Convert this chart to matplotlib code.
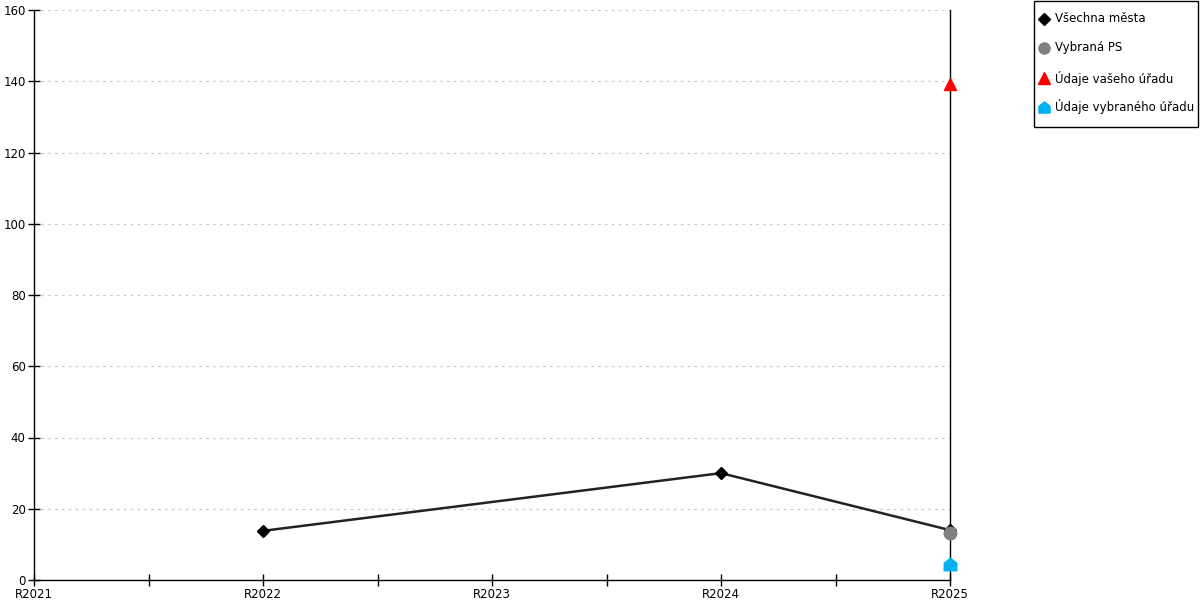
import matplotlib
matplotlib.use("Agg")
import matplotlib.pyplot as plt
from matplotlib.path import Path
from matplotlib.patches import Rectangle
import numpy as np

years = ["R2021", "R2022", "R2023", "R2024", "R2025"]
vsechna_x = ["R2022", "R2024", "R2025"]
vsechna_y = [13.8, 30.0, 14.0]
ps_x = ["R2025"]
ps_y = [13.2]
vas_x = ["R2025"]
vas_y = [139.2]
vybrany_x = ["R2025"]
vybrany_y = [4.5]
legend_labels = ["Všechna města", "Vybraná PS", "Údaje vašeho úřadu", "Údaje vybraného úřadu"]

plt.rcParams['font.family'] = ['DejaVu Sans']

pos = {y: i for i, y in enumerate(years)}

house = Path([(-1, -1), (1, -1), (1, 0.2), (0, 1), (-1, 0.2), (-1, -1)],
             [Path.MOVETO, Path.LINETO, Path.LINETO, Path.LINETO, Path.LINETO, Path.CLOSEPOLY])

W, H = 1200, 600
fig = plt.figure(figsize=(12, 6), dpi=100)
ax = fig.add_axes([34/W, 20/H, (950-34)/W, 570/H])

ax.set_xlim(0, 4)
ax.set_ylim(0, 160)

ax.grid(axis='y', color='#c8c8c8', linestyle=(0, (2, 3.5)), linewidth=0.9)
ax.set_axisbelow(True)

ax.plot([pos[x] for x in vsechna_x], vsechna_y, color='#222222', lw=1.8, marker='D',
        markersize=6, markerfacecolor='black', markeredgecolor='black', clip_on=False, zorder=3)
ax.plot([pos[x] for x in ps_x], ps_y, linestyle='none', marker='o', markersize=9,
        color='#808080', clip_on=False, zorder=4)
ax.plot([pos[x] for x in vas_x], vas_y, linestyle='none', marker='^', markersize=9,
        color='#ff0000', clip_on=False, zorder=4)
ax.plot([pos[x] for x in vybrany_x], vybrany_y, linestyle='none', marker=house, markersize=9,
        color='#00b0f0', clip_on=False, zorder=4)

ax.spines['top'].set_visible(False)
for s in ['left', 'bottom', 'right']:
    ax.spines[s].set_color('black')
    ax.spines[s].set_linewidth(1)

ax.set_xticks(range(len(years)))
ax.set_xticklabels(years)
ax.set_xticks(np.arange(0.5, 4, 1), minor=True)
ax.tick_params(axis='x', which='both', direction='inout', length=8, width=1, labelsize=8.5, pad=2)
ax.set_yticks(np.arange(0, 161, 20))
ax.tick_params(axis='y', direction='inout', length=8, width=1, labelsize=8.5, pad=2)

# manual legend in figure pixel coordinates
def fx(px):
    return px / W

def fy(py):
    return 1 - py / H

fig.patches.append(Rectangle((fx(1034), fy(127)), (1198-1034)/W, 126/H, transform=fig.transFigure,
                             facecolor='white', edgecolor='black', linewidth=1, figure=fig))
styles = [
    dict(marker='D', markersize=6, color='black'),
    dict(marker='o', markersize=8, color='#808080'),
    dict(marker='^', markersize=8, color='#ff0000'),
    dict(marker=house, markersize=8, color='#00b0f0'),
]
rows = [19, 48, 78, 107]
for lab, st, ry in zip(legend_labels, styles, rows):
    fig.add_artist(matplotlib.lines.Line2D([fx(1044)], [fy(ry)], linestyle='none',
                                           transform=fig.transFigure, **st))
    fig.text(fx(1055), fy(ry), lab, fontsize=8.5, va='center', ha='left')

fig.savefig("out.png", dpi=100)
